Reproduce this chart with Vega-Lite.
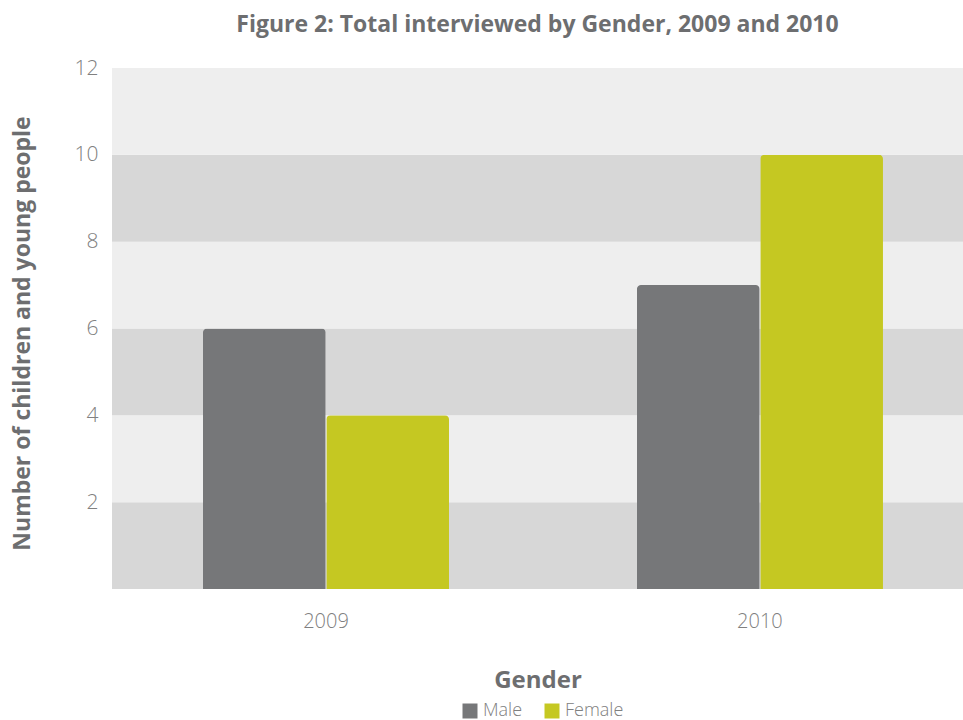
{
  "$schema": "https://vega.github.io/schema/vega-lite/v6.json",
  "width": 851,
  "height": 521,
  "autosize": "none",
  "padding": {"left": 112, "top": 68, "right": 0, "bottom": 131},
  "background": "white",
  "title": {
    "text": "Figure 2: Total interviewed by Gender, 2009 and 2010",
    "font": "Open Sans",
    "fontSize": 23,
    "fontWeight": "bold",
    "color": "#6d6e70",
    "anchor": "middle",
    "offset": 20
  },
  "datasets": {
    "bands": [
      {"lo": 0, "hi": 2, "shade": "dark"},
      {"lo": 2, "hi": 4, "shade": "light"},
      {"lo": 4, "hi": 6, "shade": "dark"},
      {"lo": 6, "hi": 8, "shade": "light"},
      {"lo": 8, "hi": 10, "shade": "dark"},
      {"lo": 10, "hi": 12, "shade": "light"}
    ],
    "bars": [
      {"year": "2009", "gender": "Male", "count": 6},
      {"year": "2009", "gender": "Female", "count": 4},
      {"year": "2010", "gender": "Male", "count": 7},
      {"year": "2010", "gender": "Female", "count": 10}
    ]
  },
  "config": {
    "view": {"stroke": null},
    "axis": {"domain": false, "ticks": false, "grid": false}
  },
  "layer": [
    {
      "data": {"name": "bands"},
      "mark": {"type": "rect"},
      "encoding": {
        "y": {"field": "lo", "type": "quantitative", "scale": {"domain": [0, 12], "nice": false}},
        "y2": {"field": "hi"},
        "color": {"field": "shade", "type": "nominal", "scale": {"domain": ["dark", "light"], "range": ["#d7d7d7", "#eeeeee"]}, "legend": null}
      }
    },
    {
      "data": {"name": "bars"},
      "mark": {"type": "bar", "cornerRadiusTopLeft": 4, "cornerRadiusTopRight": 4},
      "encoding": {
        "x": {
          "field": "year", "type": "nominal",
          "scale": {"paddingInner": 0.433, "paddingOuter": 0.197, "align": 0.532},
          "axis": {
            "labelAngle": 0, "labelFont": "Open Sans", "labelFontWeight": 300, "labelFontSize": 20, "labelColor": "#808080",
            "labelPadding": 22,
            "title": "Gender", "titleFont": "Open Sans", "titleFontSize": 24, "titleFontWeight": "bold", "titleColor": "#6d6e70",
            "titlePadding": 37
          }
        },
        "xOffset": {"field": "gender", "type": "nominal", "sort": ["Male", "Female"], "scale": {"paddingInner": 0.005}},
        "y": {
          "field": "count", "type": "quantitative",
          "scale": {"domain": [0, 12], "nice": false},
          "axis": {
            "values": [2, 4, 6, 8, 10, 12],
            "labelFont": "Open Sans", "labelFontWeight": 300, "labelFontSize": 21, "labelColor": "#808080",
            "labelPadding": 14,
            "title": "Number of children and young people", "titleFont": "Open Sans", "titleFontSize": 23, "titleFontWeight": "bold", "titleColor": "#6d6e70",
            "titleX": -78, "titleY": 265
          }
        },
        "color": {
          "field": "gender", "type": "nominal", "sort": ["Male", "Female"],
          "scale": {"domain": ["Male", "Female"], "range": ["#767779", "#c5c822"]},
          "legend": {
            "title": null, "orient": "none", "direction": "horizontal",
            "legendX": 349, "legendY": 634,
            "symbolType": "square", "symbolSize": 225, "symbolStrokeWidth": 0,
            "labelFont": "Open Sans", "labelFontWeight": 300, "labelFontSize": 18, "labelColor": "#808080",
            "columnPadding": 20, "labelOffset": 4
          }
        }
      }
    }
  ],
  "resolve": {"scale": {"color": "independent"}}
}
